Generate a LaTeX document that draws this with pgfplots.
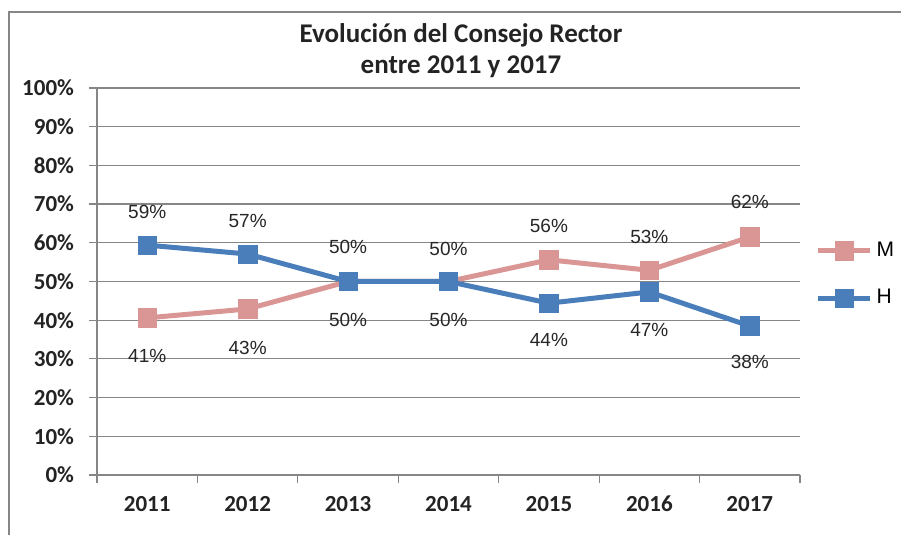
\documentclass[border=0pt]{standalone}
\usepackage{pgfplots}
\pgfplotsset{compat=1.18}
\usepackage{fontspec}
\setmainfont{Carlito}
\newfontfamily\arial{Liberation Sans}
\definecolor{serM}{RGB}{217,150,148}
\definecolor{serH}{RGB}{74,126,187}
\definecolor{gridgray}{RGB}{134,134,134}
\definecolor{txt}{RGB}{35,35,35}

% x  value  label  label offset (pt)
\pgfplotstableread{
x y lab dy
0 40.6 41 -19
1 42.9 43 -19.5
2 50.0 50 -19
3 50.0 50 16.5
4 55.6 56 17
5 52.9 53 16.5
6 61.5 62 17.5
}\dataM
\pgfplotstableread{
x y lab dy
0 59.4 59 16.5
1 57.1 57 16.5
2 50.0 50 17.5
3 50.0 50 -19
4 44.4 44 -18.5
5 47.3 47 -19
6 38.5 38 -18
}\dataH

\begin{document}
\begin{tikzpicture}
\useasboundingbox (0pt,0pt) rectangle (450.5pt,267.5pt);
\draw[gridgray, line width=0.9pt] (4.5pt,0pt) -- (4.5pt,261.5pt) -- (450.5pt,261.5pt);
\node[font=\bfseries\fontsize{13.5}{15.5}\selectfont, align=center, text=txt]
  at (230.5pt,242pt) {Evolución del Consejo Rector\\entre 2011 y 2017};
\begin{axis}[
    at={(48.5pt,30pt)}, anchor=south west,
    scale only axis, width=351.5pt, height=193.5pt,
    xmin=-0.5, xmax=6.5, ymin=0, ymax=100,
    ytick={0,10,...,100},
    yticklabel={\pgfmathprintnumber{\tick}\%},
    xtick={0,...,6},
    xticklabels={2011,2012,2013,2014,2015,2016,2017},
    minor xtick={-0.5,0.5,...,6.5},
    major x tick style={draw=none},
    tick align=outside, major tick length=4pt, minor tick length=4pt,
    tick style={gridgray, line width=0.6pt},
    axis x line*=bottom, axis y line*=left,
    axis line style={gridgray, line width=0.6pt, -},
    ymajorgrids, grid style={gridgray, line width=0.6pt},
    ticklabel style={font=\bfseries\fontsize{11.5}{13}\selectfont, text=txt},
    yticklabel style={xshift=-4pt},
    xticklabel style={yshift=-3pt},
    /pgf/number format/assume math mode=true,
    clip=false,
    legend style={at={(1.013,0.518)}, anchor=west, draw=none, fill=none,
        font=\arial\fontsize{10.5}{12}\selectfont, row sep=11pt,
        /tikz/every even column/.append style={column sep=1pt}},
    legend cell align=left,
    legend image code/.code={\draw[#1, mark repeat=2, mark phase=2]
        plot coordinates {(0pt,0pt) (13pt,0pt) (26pt,0pt)};},
    point meta=explicit symbolic,
    nodes near coords={\pgfplotspointmeta\%},
    visualization depends on={\thisrow{dy} \as \labdy},
    every node near coord/.append style={anchor=center, yshift=\labdy pt,
        font=\arial\fontsize{9.5}{11}\selectfont, text=black!85},
]
\addplot[serM, line width=2.5pt, mark=square*, mark size=4.6pt,
    mark options={solid, line width=0.3pt}]
    table[x=x, y=y, meta=lab] {\dataM};
\addlegendentry{M}
\addplot[serH, line width=2.5pt, mark=square*, mark size=4.6pt,
    mark options={solid, line width=0.3pt}]
    table[x=x, y=y, meta=lab] {\dataH};
\addlegendentry{H}
\end{axis}
\end{tikzpicture}
\end{document}
